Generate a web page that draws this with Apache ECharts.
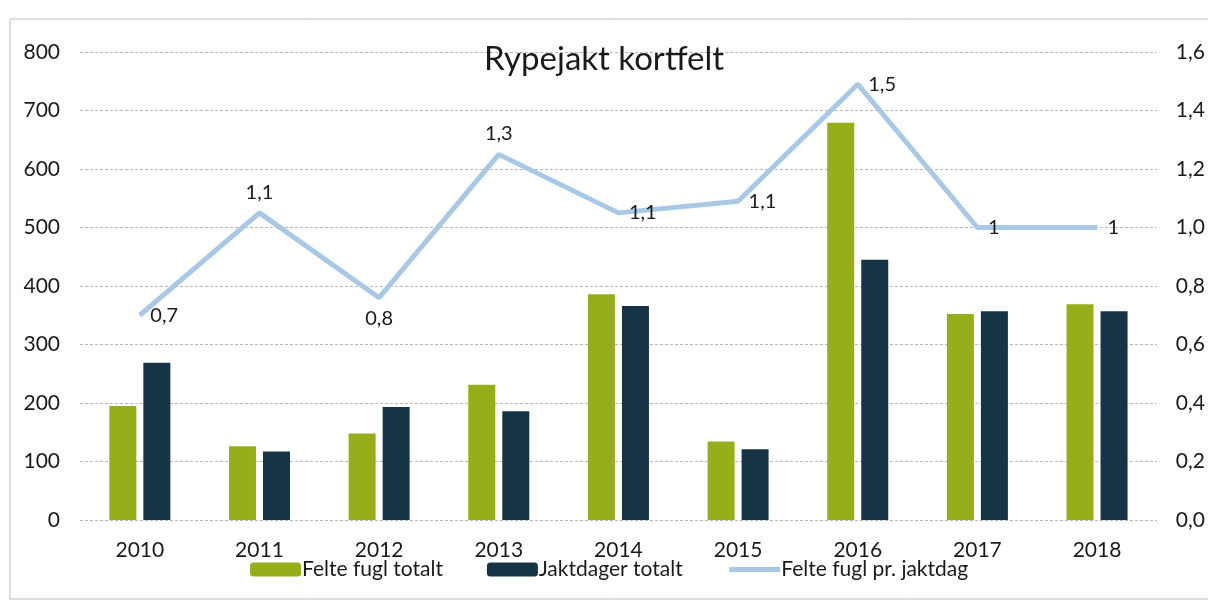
<!DOCTYPE html>
<html>
<head>
<meta charset="utf-8">
<title>Rypejakt kortfelt</title>
<script src="https://cdn.jsdelivr.net/npm/echarts@6/dist/echarts.min.js"></script>
<style>
  html, body { margin: 0; padding: 0; background: #fff; }
  #chart { width: 1208px; height: 607px; }
</style>
</head>
<body>
<div id="chart"></div>
<script>
  // data
  var years = ['2010', '2011', '2012', '2013', '2014', '2015', '2016', '2017', '2018'];
  var felteFugl = [195, 126, 148, 231, 386, 134, 679, 352, 369];
  var jaktdager = [269, 117, 193, 186, 366, 121, 445, 357, 357];
  var fuglPrDag = [0.70, 1.05, 0.76, 1.25, 1.05, 1.09, 1.49, 1.0, 1.0];
  var labelSide = ['right', 'top', 'bottom', 'top', 'right', 'right', 'right', 'right', 'right'];

  var font = 'Lato, "Open Sans", sans-serif';

  function komma(v, d) {
    return v.toFixed(d).replace('.', ',');
  }

  var chart = echarts.init(document.getElementById('chart'));
  chart.setOption({
    animation: false,
    textStyle: { fontFamily: font },
    title: {
      text: 'Rypejakt kortfelt',
      left: 'center',
      top: 38,
      textStyle: { fontSize: 33, fontWeight: 'normal', color: '#1a1a1a', fontFamily: font }
    },
    graphic: [{
      type: 'rect',
      shape: { x: 10, y: 19, width: 1300, height: 580 },
      style: { fill: 'none', stroke: '#bdbdbd', lineWidth: 1 }
    }],
    legend: {
      bottom: 22,
      left: 245,
      itemWidth: 51,
      itemHeight: 14,
      itemGap: 44,
      textStyle: { fontSize: 21, color: '#1a1a1a', padding: [0, 0, 0, -4] },
      data: [
        'Felte fugl totalt',
        'Jaktdager totalt',
        { name: 'Felte fugl pr. jaktdag', itemStyle: { opacity: 0 }, lineStyle: { width: 5 } }
      ]
    },
    grid: { left: 80, right: 45, top: 52, bottom: 87 },
    xAxis: {
      type: 'category',
      data: years,
      axisLine: { show: false },
      axisTick: { show: false },
      axisLabel: { fontSize: 21, color: '#1a1a1a', margin: 20 }
    },
    yAxis: [{
      type: 'value',
      min: 0, max: 800, interval: 100,
      axisLabel: { fontSize: 21, color: '#1a1a1a', margin: 20 },
      splitLine: { lineStyle: { color: '#b8b8b8', type: [3, 2], width: 1 } }
    }, {
      type: 'value',
      min: 0, max: 1.6, interval: 0.2,
      splitLine: { show: false },
      axisLabel: {
        fontSize: 21, color: '#1a1a1a', margin: 19,
        formatter: function (v) { return komma(v, 1); }
      }
    }],
    series: [{
      name: 'Felte fugl totalt',
      type: 'bar',
      data: felteFugl,
      barWidth: 27,
      barGap: '26%',
      itemStyle: { color: '#98ad1a' }
    }, {
      name: 'Jaktdager totalt',
      type: 'bar',
      data: jaktdager,
      barWidth: 27,
      itemStyle: { color: '#173447' }
    }, {
      name: 'Felte fugl pr. jaktdag',
      type: 'line',
      yAxisIndex: 1,
      data: fuglPrDag.map(function (v, i) {
        return { value: v, label: { position: labelSide[i] } };
      }),
      symbol: 'circle',
      symbolSize: 1,
      showSymbol: true,
      lineStyle: { color: '#a8c8e6', width: 5 },
      itemStyle: { color: '#a8c8e6' },
      label: {
        show: true,
        fontSize: 20,
        color: '#1a1a1a',
        distance: 10,
        formatter: function (p) {
          var r = Math.round(p.value * 10) / 10;
          return String(r).replace('.', ',');
        }
      }
    }]
  });
</script>
</body>
</html>
